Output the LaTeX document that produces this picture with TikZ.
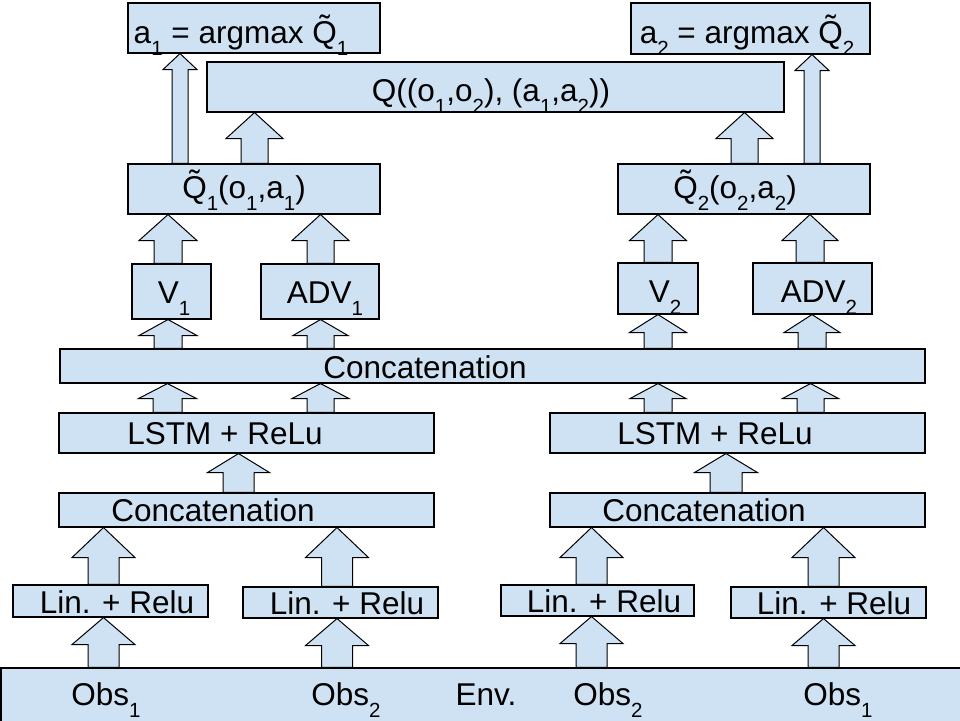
\documentclass[tikz,border=0pt]{standalone}
\usepackage{fontspec}
\setmainfont{Liberation Sans}
\usepackage{tikz}
\usetikzlibrary{positioning,calc}

\definecolor{boxblue}{HTML}{CFE2F3}
\newcommand{\lowsub}[1]{\raisebox{-12pt}{\fontsize{20.5}{20.5}\selectfont #1}}
% block arrow: x, shaft half width, head half width, head length, from, to
\newcommand{\blockup}[6]{%
  \draw[blockarrow] (#1-#2,0 |- #5.north) -- ($(#1-#2,0 |- #6.south)+(0,#4)$)
    -- ($(#1-#3,0 |- #6.south)+(0,#4)$) -- (#1,0 |- #6.south)
    -- ($(#1+#3,0 |- #6.south)+(0,#4)$) -- ($(#1+#2,0 |- #6.south)+(0,#4)$)
    -- (#1+#2,0 |- #5.north) -- cycle;}

\tikzset{
  box/.style={draw=black, fill=boxblue, line width=1.1pt, inner sep=0pt},
  lbl/.style={anchor=base, inner sep=0pt},
  blockarrow/.style={draw=black, fill=boxblue, line width=1pt, line join=miter},
}

\begin{document}
\begin{tikzpicture}[x=1pt, y=-1pt, font=\fontsize{31.5}{37}\selectfont]
    \useasboundingbox (0,0) rectangle (960,720);

    % boxes
    \node[box, minimum width=252, minimum height=50] (a1) at (254,28) {};
    \node[box, minimum width=239, minimum height=51] (a2) at (750.5,28.5) {};
    \node[box, minimum width=577, minimum height=50] (qjoint) at (495.5,87) {};
    \node[box, minimum width=252, minimum height=50] (q1t) at (254,189) {};
    \node[box, minimum width=252, minimum height=50] (q2t) at (744,189) {};
    \node[box, minimum width=79, minimum height=55] (v1) at (171.5,291.5) {};
    \node[box, minimum width=118, minimum height=55] (adv1) at (320,291.5) {};
    \node[box, minimum width=80, minimum height=51] (v2) at (658,288.5) {};
    \node[box, minimum width=119, minimum height=51] (adv2) at (812.5,288.5) {};
    \node[box, minimum width=865, minimum height=34] (cat) at (492.5,366) {};
    \node[box, minimum width=375, minimum height=40] (lstm1) at (246.5,433) {};
    \node[box, minimum width=375, minimum height=40] (lstm2) at (737.5,433) {};
    \node[box, minimum width=375, minimum height=34] (cat1) at (246.5,510) {};
    \node[box, minimum width=375, minimum height=34] (cat2) at (737.5,510) {};
    \node[box, minimum width=195, minimum height=32] (lin1) at (110.5,601) {};
    \node[box, minimum width=195, minimum height=31] (lin2) at (340.5,602.5) {};
    \node[box, minimum width=193, minimum height=31] (lin3) at (597.5,600.5) {};
    \node[box, minimum width=195, minimum height=31] (lin4) at (828.5,602.5) {};
    \node[box, minimum width=969, minimum height=62] (env) at (485.5,699) {};

    % labels
    \node[lbl] (a1t) at (241,43) {a\lowsub{1} = argmax Q̃\lowsub{1}};
    \node[lbl] (a2t) at (747,43) {a\lowsub{2} = argmax Q̃\lowsub{2}};
    \node[lbl] (qjointt) at (491,101) {Q((o\lowsub{1},o\lowsub{2}), (a\lowsub{1},a\lowsub{2}))};
    \node[lbl] (q1tt) at (244,198) {Q̃\lowsub{1}(o\lowsub{1},a\lowsub{1})};
    \node[lbl] (q2tt) at (735,198) {Q̃\lowsub{2}(o\lowsub{2},a\lowsub{2})};
    \node[lbl] (v1t) at (174,303) {V\lowsub{1}};
    \node[lbl] (adv1t) at (325,303) {ADV\lowsub{1}};
    \node[lbl] (v2t) at (665,302) {V\lowsub{2}};
    \node[lbl] (adv2t) at (819,302) {ADV\lowsub{2}};
    \node[lbl] (catt) at (425,378) {Concatenation};
    \node[lbl] (lstm1t) at (225,444) {LSTM + ReLu};
    \node[lbl] (lstm2t) at (715,444) {LSTM + ReLu};
    \node[lbl] (cat1t) at (213,521) {Concatenation};
    \node[lbl] (cat2t) at (704,521) {Concatenation};
    \node[lbl] (lin1t) at (117,613) {Lin. + Relu};
    \node[lbl] (lin2t) at (347,614) {Lin. + Relu};
    \node[lbl] (lin3t) at (604,612) {Lin. + Relu};
    \node[lbl] (lin4t) at (834,614) {Lin. + Relu};
    \node[lbl] (obs1l) at (106,705) {Obs\lowsub{1}};
    \node[lbl] (obs2l) at (346,705) {Obs\lowsub{2}};
    \node[lbl] (envt) at (486,705) {Env.};
    \node[lbl] (obs2r) at (608,705) {Obs\lowsub{2}};
    \node[lbl] (obs1r) at (838,705) {Obs\lowsub{1}};

    % arrows
    \blockup{180}{8}{17}{16}{q1t}{a1}
    \blockup{254.5}{13.5}{28.5}{26}{q1t}{qjoint}
    \blockup{744.5}{13.5}{28.5}{26}{q2t}{qjoint}
    \blockup{812}{8}{17}{16}{q2t}{a2}
    \blockup{168}{14}{29}{26}{v1}{q1t}
    \blockup{320.5}{13.5}{28.5}{26}{adv1}{q1t}
    \blockup{658}{14}{28.5}{26}{v2}{q2t}
    \blockup{810}{14}{28}{26}{adv2}{q2t}
    \blockup{168}{14}{29}{16}{cat}{v1}
    \blockup{320.5}{13.5}{27.5}{16}{cat}{adv1}
    \blockup{658}{14}{28.5}{18}{cat}{v2}
    \blockup{812}{14}{28}{18}{cat}{adv2}
    \blockup{167.5}{14.5}{29}{15}{lstm1}{cat}
    \blockup{320.5}{13.5}{28.5}{15}{lstm1}{cat}
    \blockup{658}{14}{28}{15}{lstm2}{cat}
    \blockup{810.5}{13.5}{28}{15}{lstm2}{cat}
    \blockup{238.5}{15.5}{31}{19}{cat1}{lstm1}
    \blockup{726}{16}{31.5}{19}{cat2}{lstm2}
    \foreach \x/\a/\b in {103.5/lin1/cat1, 337/lin2/cat1, 591.5/lin3/cat2, 823.5/lin4/cat2}
        \blockup{\x}{15.5}{31.5}{30}{\a}{\b};
    \foreach \x/\a in {103.5/lin1, 337/lin2, 591.5/lin3, 823.5/lin4}
        \blockup{\x}{15.5}{31.5}{27}{env}{\a};
\end{tikzpicture}
\end{document}
